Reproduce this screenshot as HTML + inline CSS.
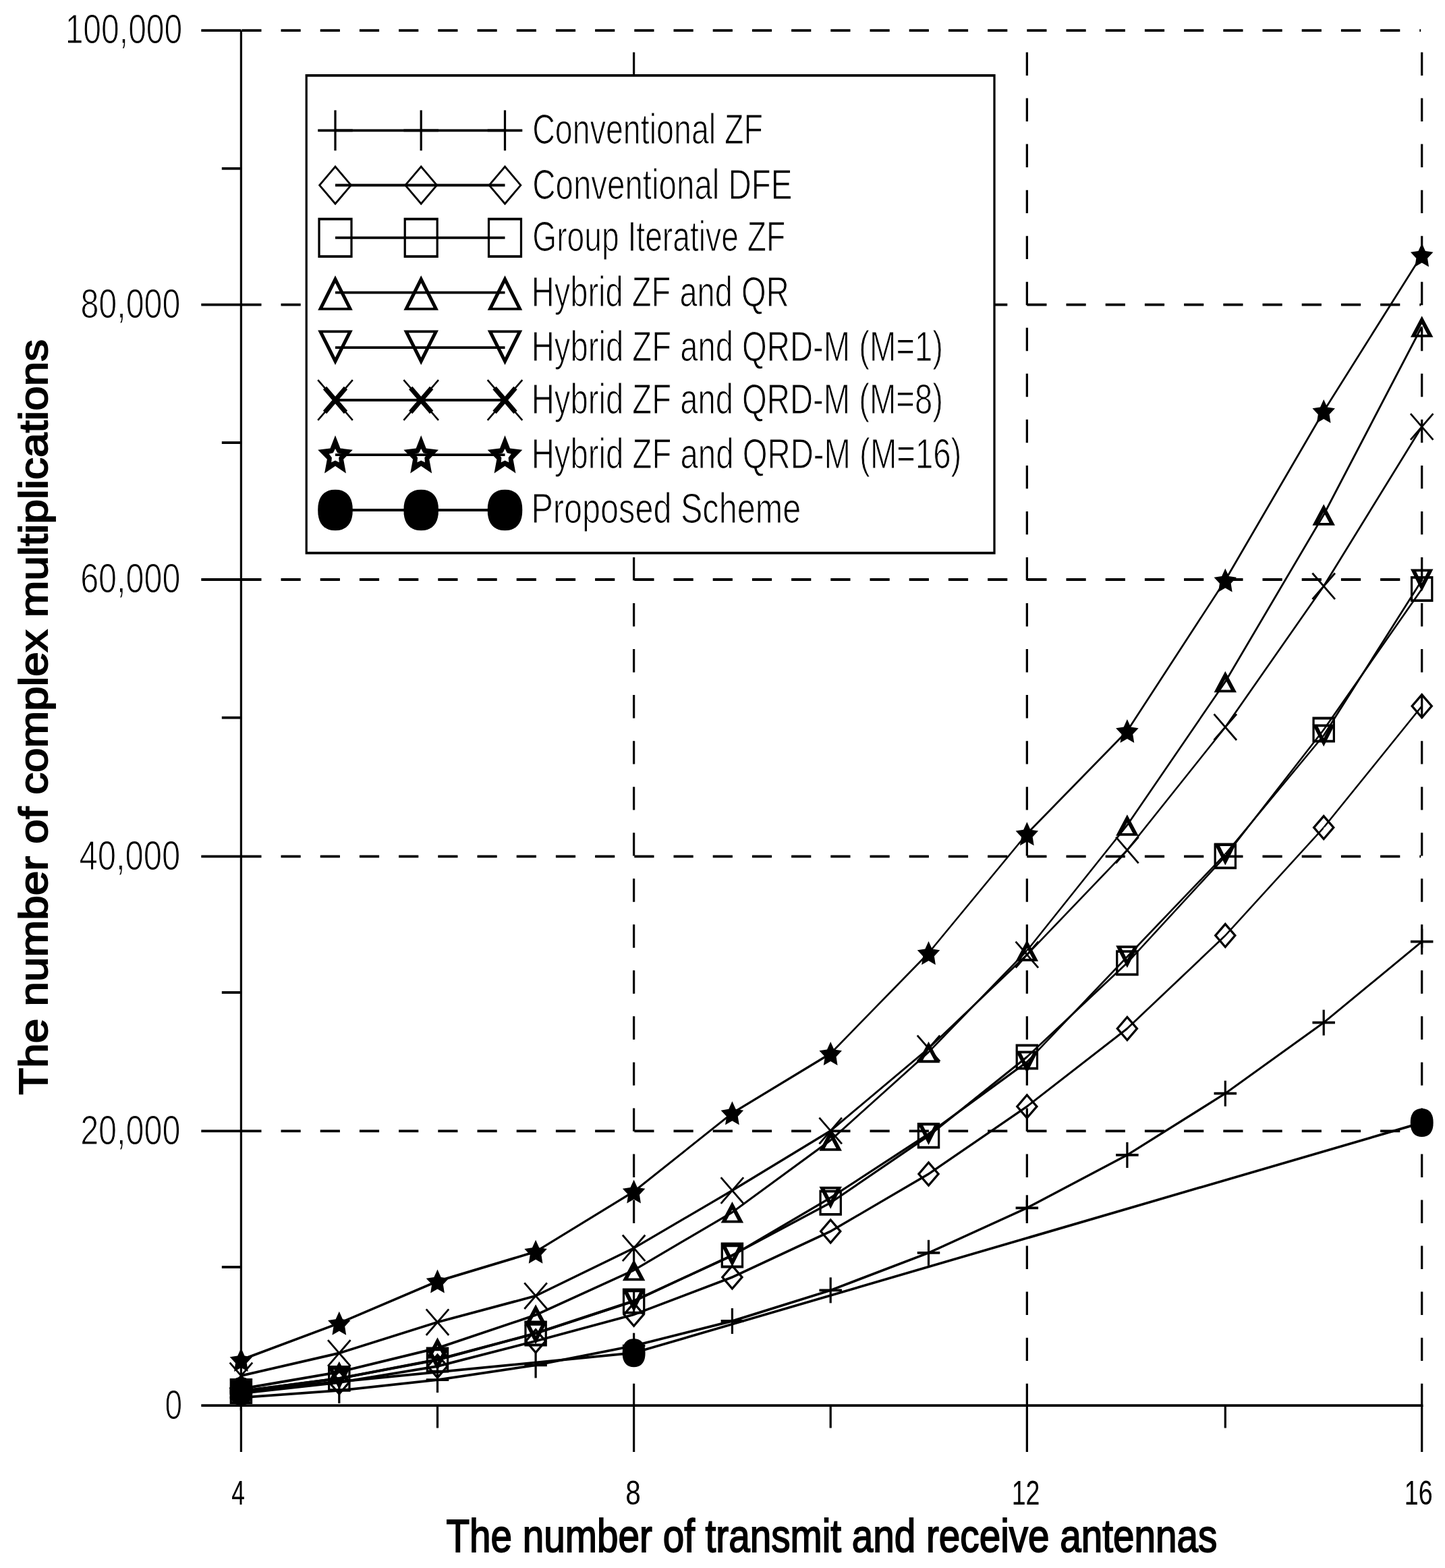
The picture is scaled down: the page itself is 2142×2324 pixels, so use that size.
<!DOCTYPE html>
<html lang="en"><head><meta charset="utf-8"><title>Complexity comparison</title>
<style>
html,body{margin:0;padding:0;background:#fff;overflow:hidden}
svg{display:block}
text{font-family:"Liberation Sans",sans-serif;fill:#000}
.t{stroke:#fff;stroke-width:1.2px;stroke-linejoin:round}
.u{stroke:none}
.b{stroke:#000;stroke-width:1.9px;stroke-linejoin:miter}
.v{stroke:#000;stroke-width:3.23;fill:none}
.h{stroke:#000;stroke-width:3.78;fill:none}
.m{stroke:#000;fill:none;stroke-linejoin:miter}
</style></head><body>
<svg width="2142" height="2324" viewBox="0 0 2142 2324" role="img" aria-label="Complexity comparison chart">
<rect width="2142" height="2324" fill="#fff"/>
<g id="grid">
<line class="h" x1="358.3" y1="1676.4" x2="2106.2" y2="1676.4" stroke-dasharray="29.2 29"/>
<line class="h" x1="358.3" y1="1269.4" x2="2106.2" y2="1269.4" stroke-dasharray="29.2 29"/>
<line class="h" x1="358.3" y1="859" x2="2106.2" y2="859" stroke-dasharray="29.2 29"/>
<line class="h" x1="358.3" y1="451.7" x2="2106.2" y2="451.7" stroke-dasharray="29.2 29"/>
<line class="h" x1="358.3" y1="45.1" x2="2106.2" y2="45.1" stroke-dasharray="29.2 29"/>
<line class="v" x1="939.6" y1="2085.09" x2="939.6" y2="45.1" stroke-dasharray="34.4 33.64"/>
<line class="v" x1="1522.35" y1="2085.09" x2="1522.35" y2="45.1" stroke-dasharray="34.4 33.64"/>
<line class="v" x1="2107.7" y1="2085.09" x2="2107.7" y2="45.1" stroke-dasharray="34.4 33.64"/>
</g>
<g id="axes">
<line class="v" x1="357.4" y1="45.1" x2="357.4" y2="2152"/>
<line class="h" x1="298.3" y1="2083.2" x2="2109.32" y2="2083.2"/>
<line class="h" x1="298.3" y1="1676.4" x2="357.4" y2="1676.4"/>
<line class="h" x1="298.3" y1="1269.4" x2="357.4" y2="1269.4"/>
<line class="h" x1="298.3" y1="859" x2="357.4" y2="859"/>
<line class="h" x1="298.3" y1="451.7" x2="357.4" y2="451.7"/>
<line class="h" x1="298.3" y1="45.1" x2="357.4" y2="45.1"/>
<line class="h" x1="328.8" y1="249.8" x2="357.4" y2="249.8"/>
<line class="h" x1="328.8" y1="656.1" x2="357.4" y2="656.1"/>
<line class="h" x1="328.8" y1="1063.7" x2="357.4" y2="1063.7"/>
<line class="h" x1="328.8" y1="1471" x2="357.4" y2="1471"/>
<line class="h" x1="328.8" y1="1878" x2="357.4" y2="1878"/>
<line class="v" x1="939.6" y1="2083.2" x2="939.6" y2="2152"/>
<line class="v" x1="1522.35" y1="2083.2" x2="1522.35" y2="2152"/>
<line class="v" x1="2107.7" y1="2083.2" x2="2107.7" y2="2152"/>
<line class="v" x1="648.5" y1="2083.2" x2="648.5" y2="2116.5"/>
<line class="v" x1="1231.2" y1="2083.2" x2="1231.2" y2="2116.5"/>
<line class="v" x1="1816.3" y1="2083.2" x2="1816.3" y2="2116.5"/>
</g>
<g id="series" fill="#000" fill-rule="evenodd">
<g id="s-zf">
<path fill-rule="nonzero" d="M357.4 2069.59L502.8 2058.94L502.8 2062.72L357.4 2073.37ZM502.8 2058.94L648.5 2043.23L648.5 2047.01L502.8 2062.72ZM648.5 2043.23L794.1 2021.51L794.1 2025.29L648.5 2047.01ZM794.1 2021.51L939.6 1992.79L939.6 1996.57L794.1 2025.29ZM939.6 1992.79L1085.4 1956.1L1085.4 1959.88L939.6 1996.57ZM1085.4 1956.1L1231.2 1910.45L1231.2 1914.23L1085.4 1959.88ZM1231.2 1910.45L1376.5 1854.89L1376.5 1858.67L1231.2 1914.23ZM1376.5 1854.89L1522.35 1788.41L1522.35 1792.19L1376.5 1858.67ZM1522.35 1788.41L1670.9 1710.06L1670.9 1713.84L1522.35 1792.19ZM1670.9 1710.06L1816.3 1618.83L1816.3 1622.61L1670.9 1713.84ZM1816.3 1618.83L1962.2 1513.75L1962.2 1517.53L1816.3 1622.61ZM1962.2 1513.75L2107.7 1393.84L2107.7 1397.62L1962.2 1517.53Z"/>
<path d="M340.65 2069.59h33.5v3.78h-33.5z"/><path d="M355.78 2052.48h3.23v38h-3.23z"/><path d="M486.05 2058.94h33.5v3.78h-33.5z"/><path d="M501.18 2041.83h3.23v38h-3.23z"/><path d="M631.75 2043.23h33.5v3.78h-33.5z"/><path d="M646.88 2026.12h3.23v38h-3.23z"/><path d="M777.35 2021.51h33.5v3.78h-33.5z"/><path d="M792.48 2004.4h3.23v38h-3.23z"/><path d="M922.85 1992.79h33.5v3.78h-33.5z"/><path d="M937.98 1975.68h3.23v38h-3.23z"/><path d="M1068.65 1956.1h33.5v3.78h-33.5z"/><path d="M1083.78 1938.99h3.23v38h-3.23z"/><path d="M1214.45 1910.45h33.5v3.78h-33.5z"/><path d="M1229.58 1893.34h3.23v38h-3.23z"/><path d="M1359.75 1854.89h33.5v3.78h-33.5z"/><path d="M1374.88 1837.78h3.23v38h-3.23z"/><path d="M1505.6 1788.41h33.5v3.78h-33.5z"/><path d="M1520.73 1771.3h3.23v38h-3.23z"/><path d="M1654.15 1710.06h33.5v3.78h-33.5z"/><path d="M1669.28 1692.95h3.23v38h-3.23z"/><path d="M1799.55 1618.83h33.5v3.78h-33.5z"/><path d="M1814.68 1601.72h3.23v38h-3.23z"/><path d="M1945.45 1513.75h33.5v3.78h-33.5z"/><path d="M1960.58 1496.64h3.23v38h-3.23z"/><path d="M2090.95 1393.84h33.5v3.78h-33.5z"/><path d="M2106.08 1376.73h3.23v38h-3.23z"/>
</g>
<g id="s-dfe">
<path fill-rule="nonzero" d="M357.4 2063.11L502.8 2047.11L502.8 2050.89L357.4 2066.89ZM502.8 2047.11L648.5 2023.11L648.5 2026.89L502.8 2050.89ZM648.5 2023.11L794.1 1985.81L794.1 1989.59L648.5 2026.89ZM794.1 1985.81L939.6 1946.41L939.6 1950.19L794.1 1989.59ZM939.6 1946.41L1085.4 1891.11L1085.4 1894.89L939.6 1950.19ZM1085.4 1891.11L1231.2 1823.11L1231.2 1826.89L1085.4 1894.89ZM1231.2 1823.11L1376.5 1738.11L1376.5 1741.89L1231.2 1826.89ZM1376.5 1738.11L1522.35 1638.11L1522.35 1641.89L1376.5 1741.89ZM1522.35 1638.11L1670.9 1522.61L1670.9 1526.39L1522.35 1641.89ZM1670.9 1522.61L1816.3 1384.71L1816.3 1388.49L1670.9 1526.39ZM1816.3 1384.71L1962.2 1224.71L1962.2 1228.49L1816.3 1388.49ZM1960.58 1226.6L2106.08 1046.6L2109.32 1046.6L1963.82 1226.6Z"/>
<path d="M357.4 2045.5L374.15 2065L357.4 2084.5L340.65 2065ZM357.4 2050.56L345 2065L357.4 2079.44L369.8 2065Z"/><path d="M502.8 2029.5L519.55 2049L502.8 2068.5L486.05 2049ZM502.8 2034.56L490.4 2049L502.8 2063.44L515.2 2049Z"/><path d="M648.5 2005.5L665.25 2025L648.5 2044.5L631.75 2025ZM648.5 2010.56L636.1 2025L648.5 2039.44L660.9 2025Z"/><path d="M794.1 1968.2L810.85 1987.7L794.1 2007.2L777.35 1987.7ZM794.1 1973.26L781.7 1987.7L794.1 2002.14L806.5 1987.7Z"/><path d="M939.6 1928.8L956.35 1948.3L939.6 1967.8L922.85 1948.3ZM939.6 1933.86L927.2 1948.3L939.6 1962.74L952 1948.3Z"/><path d="M1085.4 1873.5L1102.15 1893L1085.4 1912.5L1068.65 1893ZM1085.4 1878.56L1073 1893L1085.4 1907.44L1097.8 1893Z"/><path d="M1231.2 1805.5L1247.95 1825L1231.2 1844.5L1214.45 1825ZM1231.2 1810.56L1218.8 1825L1231.2 1839.44L1243.6 1825Z"/><path d="M1376.5 1720.5L1393.25 1740L1376.5 1759.5L1359.75 1740ZM1376.5 1725.56L1364.1 1740L1376.5 1754.44L1388.9 1740Z"/><path d="M1522.35 1620.5L1539.1 1640L1522.35 1659.5L1505.6 1640ZM1522.35 1625.56L1509.95 1640L1522.35 1654.44L1534.75 1640Z"/><path d="M1670.9 1505L1687.65 1524.5L1670.9 1544L1654.15 1524.5ZM1670.9 1510.06L1658.5 1524.5L1670.9 1538.94L1683.3 1524.5Z"/><path d="M1816.3 1367.1L1833.05 1386.6L1816.3 1406.1L1799.55 1386.6ZM1816.3 1372.16L1803.9 1386.6L1816.3 1401.04L1828.7 1386.6Z"/><path d="M1962.2 1207.1L1978.95 1226.6L1962.2 1246.1L1945.45 1226.6ZM1962.2 1212.16L1949.8 1226.6L1962.2 1241.04L1974.6 1226.6Z"/><path d="M2107.7 1027.1L2124.45 1046.6L2107.7 1066.1L2090.95 1046.6ZM2107.7 1032.16L2095.3 1046.6L2107.7 1061.04L2120.1 1046.6Z"/>
</g>
<g id="s-giz">
<path fill-rule="nonzero" d="M357.4 2060.11L502.8 2041.11L502.8 2044.89L357.4 2063.89ZM502.8 2041.11L648.5 2013.61L648.5 2017.39L502.8 2044.89ZM648.5 2013.61L794.1 1974.51L794.1 1978.29L648.5 2017.39ZM794.1 1974.51L939.6 1926.71L939.6 1930.49L794.1 1978.29ZM939.6 1926.71L1085.4 1858.51L1085.4 1862.29L939.6 1930.49ZM1085.4 1858.51L1231.2 1780.81L1231.2 1784.59L1085.4 1862.29ZM1231.2 1780.81L1376.5 1681.61L1376.5 1685.39L1231.2 1784.59ZM1376.5 1681.61L1522.35 1564.61L1522.35 1568.39L1376.5 1685.39ZM1522.35 1564.61L1670.9 1425.31L1670.9 1429.09L1522.35 1568.39ZM1670.9 1425.31L1816.3 1267.41L1816.3 1271.19L1670.9 1429.09ZM1814.68 1269.3L1960.58 1081.6L1963.82 1081.6L1817.92 1269.3ZM1960.58 1081.6L2106.08 873L2109.32 873L1963.82 1081.6Z"/>
<path d="M340.65 2043L374.15 2043L374.15 2081L340.65 2081ZM343.88 2046.78L343.88 2077.22L370.92 2077.22L370.92 2046.78Z"/><path d="M486.05 2024L519.55 2024L519.55 2062L486.05 2062ZM489.28 2027.78L489.28 2058.22L516.32 2058.22L516.32 2027.78Z"/><path d="M631.75 1996.5L665.25 1996.5L665.25 2034.5L631.75 2034.5ZM634.98 2000.28L634.98 2030.72L662.02 2030.72L662.02 2000.28Z"/><path d="M777.35 1957.4L810.85 1957.4L810.85 1995.4L777.35 1995.4ZM780.58 1961.18L780.58 1991.62L807.62 1991.62L807.62 1961.18Z"/><path d="M922.85 1909.6L956.35 1909.6L956.35 1947.6L922.85 1947.6ZM926.08 1913.38L926.08 1943.82L953.12 1943.82L953.12 1913.38Z"/><path d="M1068.65 1841.4L1102.15 1841.4L1102.15 1879.4L1068.65 1879.4ZM1071.88 1845.18L1071.88 1875.62L1098.92 1875.62L1098.92 1845.18Z"/><path d="M1214.45 1763.7L1247.95 1763.7L1247.95 1801.7L1214.45 1801.7ZM1217.68 1767.48L1217.68 1797.92L1244.72 1797.92L1244.72 1767.48Z"/><path d="M1359.75 1664.5L1393.25 1664.5L1393.25 1702.5L1359.75 1702.5ZM1362.98 1668.28L1362.98 1698.72L1390.02 1698.72L1390.02 1668.28Z"/><path d="M1505.6 1547.5L1539.1 1547.5L1539.1 1585.5L1505.6 1585.5ZM1508.83 1551.28L1508.83 1581.72L1535.87 1581.72L1535.87 1551.28Z"/><path d="M1654.15 1408.2L1687.65 1408.2L1687.65 1446.2L1654.15 1446.2ZM1657.38 1411.98L1657.38 1442.42L1684.42 1442.42L1684.42 1411.98Z"/><path d="M1799.55 1250.3L1833.05 1250.3L1833.05 1288.3L1799.55 1288.3ZM1802.78 1254.08L1802.78 1284.52L1829.82 1284.52L1829.82 1254.08Z"/><path d="M1945.45 1062.6L1978.95 1062.6L1978.95 1100.6L1945.45 1100.6ZM1948.68 1066.38L1948.68 1096.82L1975.72 1096.82L1975.72 1066.38Z"/><path d="M2090.95 854L2124.45 854L2124.45 892L2090.95 892ZM2094.18 857.78L2094.18 888.22L2121.22 888.22L2121.22 857.78Z"/>
</g>
<g id="s-qr">
<path fill-rule="nonzero" d="M357.4 2056.61L502.8 2031.61L502.8 2035.39L357.4 2060.39ZM502.8 2031.61L648.5 1996.11L648.5 1999.89L502.8 2035.39ZM648.5 1996.11L794.1 1947.11L794.1 1950.89L648.5 1999.89ZM794.1 1947.11L939.6 1880.71L939.6 1884.49L794.1 1950.89ZM939.6 1880.71L1085.4 1794.91L1085.4 1798.69L939.6 1884.49ZM1085.4 1794.91L1231.2 1688.11L1231.2 1691.89L1085.4 1798.69ZM1231.2 1688.11L1376.5 1557.51L1376.5 1561.29L1231.2 1691.89ZM1376.5 1557.51L1522.35 1407.11L1522.35 1410.89L1376.5 1561.29ZM1520.73 1409L1669.28 1223L1672.52 1223L1523.97 1409ZM1669.28 1223L1814.68 1010.5L1817.92 1010.5L1672.52 1223ZM1814.68 1010.5L1960.58 763L1963.82 763L1817.92 1010.5ZM1960.58 763L2106.08 484L2109.32 484L1963.82 763Z"/>
<path d="M357.4 2042.75L374.15 2074.25L340.65 2074.25ZM357.4 2054.79L349.06 2070.47L365.74 2070.47Z"/><path d="M502.8 2017.75L519.55 2049.25L486.05 2049.25ZM502.8 2029.79L494.46 2045.47L511.14 2045.47Z"/><path d="M648.5 1982.25L665.25 2013.75L631.75 2013.75ZM648.5 1994.29L640.16 2009.97L656.84 2009.97Z"/><path d="M794.1 1933.25L810.85 1964.75L777.35 1964.75ZM794.1 1945.29L785.76 1960.97L802.44 1960.97Z"/><path d="M939.6 1866.85L956.35 1898.35L922.85 1898.35ZM939.6 1878.89L931.26 1894.57L947.94 1894.57Z"/><path d="M1085.4 1781.05L1102.15 1812.55L1068.65 1812.55ZM1085.4 1793.09L1077.06 1808.77L1093.74 1808.77Z"/><path d="M1231.2 1674.25L1247.95 1705.75L1214.45 1705.75ZM1231.2 1686.29L1222.86 1701.97L1239.54 1701.97Z"/><path d="M1376.5 1543.65L1393.25 1575.15L1359.75 1575.15ZM1376.5 1555.69L1368.16 1571.37L1384.84 1571.37Z"/><path d="M1522.35 1393.25L1539.1 1424.75L1505.6 1424.75ZM1522.35 1405.29L1514.01 1420.97L1530.69 1420.97Z"/><path d="M1670.9 1207.25L1687.65 1238.75L1654.15 1238.75ZM1670.9 1219.29L1662.56 1234.97L1679.24 1234.97Z"/><path d="M1816.3 994.75L1833.05 1026.25L1799.55 1026.25ZM1816.3 1006.79L1807.96 1022.47L1824.64 1022.47Z"/><path d="M1962.2 747.25L1978.95 778.75L1945.45 778.75ZM1962.2 759.29L1953.86 774.97L1970.54 774.97Z"/><path d="M2107.7 468.25L2124.45 499.75L2090.95 499.75ZM2107.7 480.29L2099.36 495.97L2116.04 495.97Z"/>
</g>
<g id="s-m1">
<path fill-rule="nonzero" d="M357.4 2060.11L502.8 2041.11L502.8 2044.89L357.4 2063.89ZM502.8 2041.11L648.5 2013.11L648.5 2016.89L502.8 2044.89ZM648.5 2013.11L794.1 1974.11L794.1 1977.89L648.5 2016.89ZM794.1 1974.11L939.6 1926.11L939.6 1929.89L794.1 1977.89ZM939.6 1926.11L1085.4 1859.11L1085.4 1862.89L939.6 1929.89ZM1085.4 1859.11L1231.2 1773.31L1231.2 1777.09L1085.4 1862.89ZM1231.2 1773.31L1376.5 1678.61L1376.5 1682.39L1231.2 1777.09ZM1376.5 1678.61L1522.35 1572.11L1522.35 1575.89L1376.5 1682.39ZM1522.35 1572.11L1670.9 1416.11L1670.9 1419.89L1522.35 1575.89ZM1670.9 1416.11L1816.3 1264.11L1816.3 1267.89L1670.9 1419.89ZM1814.68 1266L1960.58 1090L1963.82 1090L1817.92 1266ZM1960.58 1090L2106.08 860L2109.32 860L1963.82 1090Z"/>
<path d="M340.65 2045.5L374.15 2045.5L357.4 2078.5ZM365.83 2049.28L348.97 2049.28L357.4 2065.89Z"/><path d="M486.05 2026.5L519.55 2026.5L502.8 2059.5ZM511.23 2030.28L494.37 2030.28L502.8 2046.89Z"/><path d="M631.75 1998.5L665.25 1998.5L648.5 2031.5ZM656.93 2002.28L640.07 2002.28L648.5 2018.89Z"/><path d="M777.35 1959.5L810.85 1959.5L794.1 1992.5ZM802.53 1963.28L785.67 1963.28L794.1 1979.89Z"/><path d="M922.85 1911.5L956.35 1911.5L939.6 1944.5ZM948.03 1915.28L931.17 1915.28L939.6 1931.89Z"/><path d="M1068.65 1844.5L1102.15 1844.5L1085.4 1877.5ZM1093.83 1848.28L1076.97 1848.28L1085.4 1864.89Z"/><path d="M1214.45 1758.7L1247.95 1758.7L1231.2 1791.7ZM1239.63 1762.48L1222.77 1762.48L1231.2 1779.09Z"/><path d="M1359.75 1664L1393.25 1664L1376.5 1697ZM1384.93 1667.78L1368.07 1667.78L1376.5 1684.39Z"/><path d="M1505.6 1557.5L1539.1 1557.5L1522.35 1590.5ZM1530.78 1561.28L1513.92 1561.28L1522.35 1577.89Z"/><path d="M1654.15 1401.5L1687.65 1401.5L1670.9 1434.5ZM1679.33 1405.28L1662.47 1405.28L1670.9 1421.89Z"/><path d="M1799.55 1249.5L1833.05 1249.5L1816.3 1282.5ZM1824.73 1253.28L1807.87 1253.28L1816.3 1269.89Z"/><path d="M1945.45 1073.5L1978.95 1073.5L1962.2 1106.5ZM1970.63 1077.28L1953.77 1077.28L1962.2 1093.89Z"/><path d="M2090.95 843.5L2124.45 843.5L2107.7 876.5ZM2116.13 847.28L2099.27 847.28L2107.7 863.89Z"/>
</g>
<g id="s-m8">
<path fill-rule="nonzero" d="M357.4 2037.11L502.8 2003.61L502.8 2007.39L357.4 2040.89ZM502.8 2003.61L648.5 1957.81L648.5 1961.59L502.8 2007.39ZM648.5 1957.81L794.1 1918.81L794.1 1922.59L648.5 1961.59ZM794.1 1918.81L939.6 1847.91L939.6 1851.69L794.1 1922.59ZM939.6 1847.91L1085.4 1762.61L1085.4 1766.39L939.6 1851.69ZM1085.4 1762.61L1231.2 1674.11L1231.2 1677.89L1085.4 1766.39ZM1231.2 1674.11L1376.5 1552.01L1376.5 1555.79L1231.2 1677.89ZM1376.5 1552.01L1522.35 1413.11L1522.35 1416.89L1376.5 1555.79ZM1522.35 1413.11L1670.9 1258.11L1670.9 1261.89L1522.35 1416.89ZM1669.28 1260L1814.68 1077.7L1817.92 1077.7L1672.52 1260ZM1814.68 1077.7L1960.58 868.8L1963.82 868.8L1817.92 1077.7ZM1960.58 868.8L2106.08 632.5L2109.32 632.5L1963.82 868.8Z"/>
<path fill-rule="nonzero" d="M339.59 2020.62L373.09 2059.22L375.21 2057.38L341.71 2018.78ZM341.71 2059.22L375.21 2020.62L373.09 2018.78L339.59 2057.38Z"/><path fill-rule="nonzero" d="M484.99 1987.12L518.49 2025.72L520.61 2023.88L487.11 1985.28ZM487.11 2025.72L520.61 1987.12L518.49 1985.28L484.99 2023.88Z"/><path fill-rule="nonzero" d="M630.69 1941.32L664.19 1979.92L666.31 1978.08L632.81 1939.48ZM632.81 1979.92L666.31 1941.32L664.19 1939.48L630.69 1978.08Z"/><path fill-rule="nonzero" d="M776.29 1902.32L809.79 1940.92L811.91 1939.08L778.41 1900.48ZM778.41 1940.92L811.91 1902.32L809.79 1900.48L776.29 1939.08Z"/><path fill-rule="nonzero" d="M921.79 1831.42L955.29 1870.02L957.41 1868.18L923.91 1829.58ZM923.91 1870.02L957.41 1831.42L955.29 1829.58L921.79 1868.18Z"/><path fill-rule="nonzero" d="M1067.59 1746.12L1101.09 1784.72L1103.21 1782.88L1069.71 1744.28ZM1069.71 1784.72L1103.21 1746.12L1101.09 1744.28L1067.59 1782.88Z"/><path fill-rule="nonzero" d="M1213.39 1657.62L1246.89 1696.22L1249.01 1694.38L1215.51 1655.78ZM1215.51 1696.22L1249.01 1657.62L1246.89 1655.78L1213.39 1694.38Z"/><path fill-rule="nonzero" d="M1358.69 1535.52L1392.19 1574.12L1394.31 1572.28L1360.81 1533.68ZM1360.81 1574.12L1394.31 1535.52L1392.19 1533.68L1358.69 1572.28Z"/><path fill-rule="nonzero" d="M1504.54 1396.62L1538.04 1435.22L1540.16 1433.38L1506.66 1394.78ZM1506.66 1435.22L1540.16 1396.62L1538.04 1394.78L1504.54 1433.38Z"/><path fill-rule="nonzero" d="M1653.09 1241.62L1686.59 1280.22L1688.71 1278.38L1655.21 1239.78ZM1655.21 1280.22L1688.71 1241.62L1686.59 1239.78L1653.09 1278.38Z"/><path fill-rule="nonzero" d="M1798.49 1059.32L1831.99 1097.92L1834.11 1096.08L1800.61 1057.48ZM1800.61 1097.92L1834.11 1059.32L1831.99 1057.48L1798.49 1096.08Z"/><path fill-rule="nonzero" d="M1944.39 850.42L1977.89 889.02L1980.01 887.18L1946.51 848.58ZM1946.51 889.02L1980.01 850.42L1977.89 848.58L1944.39 887.18Z"/><path fill-rule="nonzero" d="M2089.89 614.12L2123.39 652.72L2125.51 650.88L2092.01 612.28ZM2092.01 652.72L2125.51 614.12L2123.39 612.28L2089.89 650.88Z"/>
</g>
<g id="s-m16">
<path fill-rule="nonzero" d="M357.4 2013.61L502.8 1959.31L502.8 1963.09L357.4 2017.39ZM502.8 1959.31L648.5 1897.11L648.5 1900.89L502.8 1963.09ZM648.5 1897.11L794.1 1853.31L794.1 1857.09L648.5 1900.89ZM794.1 1853.31L939.6 1764.11L939.6 1767.89L794.1 1857.09ZM939.6 1764.11L1085.4 1647.91L1085.4 1651.69L939.6 1767.89ZM1085.4 1647.91L1231.2 1559.61L1231.2 1563.39L1085.4 1651.69ZM1231.2 1559.61L1376.5 1410.61L1376.5 1414.39L1231.2 1563.39ZM1374.88 1412.5L1520.73 1235.7L1523.97 1235.7L1378.12 1412.5ZM1522.35 1233.81L1670.9 1081.61L1670.9 1085.39L1522.35 1237.59ZM1669.28 1083.5L1814.68 860L1817.92 860L1672.52 1083.5ZM1814.68 860L1960.58 609.5L1963.82 609.5L1817.92 860ZM1960.58 609.5L2106.08 378L2109.32 378L1963.82 609.5Z"/>
<path d="M357.4 1998L362.58 2009.52L374.15 2011.37L365.77 2020.34L367.75 2033L357.4 2027.02L347.05 2033L349.02 2020.34L340.65 2011.37L352.22 2009.52Z"/><path d="M502.8 1943.7L507.98 1955.22L519.55 1957.07L511.18 1966.04L513.15 1978.7L502.8 1972.72L492.45 1978.7L494.43 1966.04L486.05 1957.07L497.62 1955.22Z"/><path d="M648.5 1881.5L653.68 1893.02L665.25 1894.87L656.88 1903.84L658.85 1916.5L648.5 1910.52L638.15 1916.5L640.12 1903.84L631.75 1894.87L643.32 1893.02Z"/><path d="M794.1 1837.7L799.28 1849.22L810.85 1851.07L802.48 1860.04L804.45 1872.7L794.1 1866.72L783.75 1872.7L785.73 1860.04L777.35 1851.07L788.92 1849.22Z"/><path d="M939.6 1748.5L944.78 1760.02L956.35 1761.87L947.98 1770.84L949.95 1783.5L939.6 1777.52L929.25 1783.5L931.23 1770.84L922.85 1761.87L934.42 1760.02Z"/><path d="M1085.4 1632.3L1090.58 1643.82L1102.15 1645.67L1093.78 1654.64L1095.75 1667.3L1085.4 1661.32L1075.05 1667.3L1077.03 1654.64L1068.65 1645.67L1080.22 1643.82Z"/><path d="M1231.2 1544L1236.38 1555.52L1247.95 1557.37L1239.58 1566.34L1241.55 1579L1231.2 1573.02L1220.85 1579L1222.83 1566.34L1214.45 1557.37L1226.02 1555.52Z"/><path d="M1376.5 1395L1381.68 1406.52L1393.25 1408.37L1384.88 1417.34L1386.85 1430L1376.5 1424.02L1366.15 1430L1368.12 1417.34L1359.75 1408.37L1371.32 1406.52Z"/><path d="M1522.35 1218.2L1527.53 1229.72L1539.1 1231.57L1530.72 1240.54L1532.7 1253.2L1522.35 1247.22L1512 1253.2L1513.97 1240.54L1505.6 1231.57L1517.17 1229.72Z"/><path d="M1670.9 1066L1676.08 1077.52L1687.65 1079.37L1679.28 1088.34L1681.25 1101L1670.9 1095.02L1660.55 1101L1662.53 1088.34L1654.15 1079.37L1665.72 1077.52Z"/><path d="M1816.3 842.5L1821.48 854.02L1833.05 855.87L1824.67 864.84L1826.65 877.5L1816.3 871.52L1805.95 877.5L1807.92 864.84L1799.55 855.87L1811.12 854.02Z"/><path d="M1962.2 592L1967.38 603.52L1978.95 605.37L1970.58 614.34L1972.55 627L1962.2 621.02L1951.85 627L1953.83 614.34L1945.45 605.37L1957.02 603.52Z"/><path d="M2107.7 360.5L2112.88 372.02L2124.45 373.87L2116.07 382.84L2118.05 395.5L2107.7 389.52L2097.35 395.5L2099.32 382.84L2090.95 373.87L2102.52 372.02Z"/>
</g>
<g id="s-prop">
<path fill-rule="nonzero" d="M357.4 2060.11L939.6 2003.31L939.6 2007.09L357.4 2063.89ZM939.6 2003.31L2107.7 1662.11L2107.7 1665.89L939.6 2007.09Z"/>
<path d="M374.35 2062L374.17 2066.33L373.64 2069.73L372.76 2072.72L371.55 2075.36L370.02 2077.64L368.18 2079.53L366.06 2081.04L363.64 2082.12L360.9 2082.78L357.4 2083L353.9 2082.78L351.16 2082.12L348.74 2081.04L346.62 2079.53L344.78 2077.64L343.25 2075.36L342.04 2072.72L341.16 2069.73L340.63 2066.33L340.45 2062L340.63 2057.67L341.16 2054.27L342.04 2051.28L343.25 2048.64L344.78 2046.36L346.62 2044.47L348.74 2042.96L351.16 2041.88L353.9 2041.22L357.4 2041L360.9 2041.22L363.64 2041.88L366.06 2042.96L368.18 2044.47L370.02 2046.36L371.55 2048.64L372.76 2051.28L373.64 2054.27L374.17 2057.67Z"/><path d="M956.55 2005.2L956.37 2009.53L955.84 2012.93L954.96 2015.92L953.75 2018.56L952.22 2020.84L950.38 2022.73L948.26 2024.24L945.84 2025.32L943.1 2025.98L939.6 2026.2L936.1 2025.98L933.36 2025.32L930.94 2024.24L928.82 2022.73L926.98 2020.84L925.45 2018.56L924.24 2015.92L923.36 2012.93L922.83 2009.53L922.65 2005.2L922.83 2000.87L923.36 1997.47L924.24 1994.48L925.45 1991.84L926.98 1989.56L928.82 1987.67L930.94 1986.16L933.36 1985.08L936.1 1984.42L939.6 1984.2L943.1 1984.42L945.84 1985.08L948.26 1986.16L950.38 1987.67L952.22 1989.56L953.75 1991.84L954.96 1994.48L955.84 1997.47L956.37 2000.87Z"/><path d="M2124.65 1664L2124.47 1668.33L2123.94 1671.73L2123.06 1674.72L2121.85 1677.36L2120.32 1679.64L2118.48 1681.53L2116.36 1683.04L2113.94 1684.12L2111.2 1684.78L2107.7 1685L2104.2 1684.78L2101.46 1684.12L2099.04 1683.04L2096.92 1681.53L2095.08 1679.64L2093.55 1677.36L2092.34 1674.72L2091.46 1671.73L2090.93 1668.33L2090.75 1664L2090.93 1659.67L2091.46 1656.27L2092.34 1653.28L2093.55 1650.64L2095.08 1648.36L2096.92 1646.47L2099.04 1644.96L2101.46 1643.88L2104.2 1643.22L2107.7 1643L2111.2 1643.22L2113.94 1643.88L2116.36 1644.96L2118.48 1646.47L2120.32 1648.36L2121.85 1650.64L2123.06 1653.28L2123.94 1656.27L2124.47 1659.67Z"/>
</g>
</g>
<g id="legend">
<path fill="#fff" d="M454.2 111.8H1474V819.7H454.2Z"/>
<path fill="#000" fill-rule="evenodd" d="M452.58 109.91H1475.62V821.59H452.58ZM455.82 113.69H1472.38V817.81H455.82Z"/>
<g fill="#000" fill-rule="evenodd">
<path d="M497 191.41H748.5V195.19H497Z"/>
<path d="M471.2 191.41h51.6v3.78h-51.6z"/><path d="M495.38 163.4h3.23v59.8h-3.23z"/><path d="M598.4 191.41h51.6v3.78h-51.6z"/><path d="M622.58 163.4h3.23v59.8h-3.23z"/><path d="M722.7 191.41h51.6v3.78h-51.6z"/><path d="M746.88 163.4h3.23v59.8h-3.23z"/>
<path d="M497 272.61H748.5V276.39H497Z"/>
<path d="M497 244.8L522.2 274.5L497 304.2L471.8 274.5ZM497 249.13L475.47 274.5L497 299.87L518.53 274.5Z"/><path d="M624.2 244.8L649.4 274.5L624.2 304.2L599 274.5ZM624.2 249.13L602.67 274.5L624.2 299.87L645.73 274.5Z"/><path d="M748.5 244.8L773.7 274.5L748.5 304.2L723.3 274.5ZM748.5 249.13L726.97 274.5L748.5 299.87L770.03 274.5Z"/>
<path d="M497 350.51H748.5V354.29H497Z"/>
<path d="M471.4 322.8L522.6 322.8L522.6 382L471.4 382ZM474.63 326.58L474.63 378.22L519.37 378.22L519.37 326.58Z"/><path d="M598.6 322.8L649.8 322.8L649.8 382L598.6 382ZM601.83 326.58L601.83 378.22L646.57 378.22L646.57 326.58Z"/><path d="M722.9 322.8L774.1 322.8L774.1 382L722.9 382ZM726.13 326.58L726.13 378.22L770.87 378.22L770.87 326.58Z"/>
<path d="M497 431.71H748.5V435.49H497Z"/>
<path d="M497 408.2L522.8 459.7L471.2 459.7ZM497 419.38L478.69 455.92L515.31 455.92Z"/><path d="M624.2 408.2L650 459.7L598.4 459.7ZM624.2 419.38L605.89 455.92L642.51 455.92Z"/><path d="M748.5 408.2L774.3 459.7L722.7 459.7ZM748.5 419.38L730.19 455.92L766.81 455.92Z"/>
<path d="M497 513.31H748.5V517.09H497Z"/>
<path d="M471.2 489.4L522.8 489.4L497 540.9ZM515.31 493.18L478.69 493.18L497 529.72Z"/><path d="M598.4 489.4L650 489.4L624.2 540.9ZM642.51 493.18L605.89 493.18L624.2 529.72Z"/><path d="M722.7 489.4L774.3 489.4L748.5 540.9ZM766.81 493.18L730.19 493.18L748.5 529.72Z"/>
<path d="M497 591.11H748.5V594.89H497Z"/>
<path fill-rule="nonzero" d="M470.22 563.95L521.82 623.75L523.78 622.05L472.18 562.25ZM472.18 623.75L523.78 563.95L521.82 562.25L470.22 622.05Z"/><path fill-rule="nonzero" d="M478.87 577.35L509.83 613.23L515.13 608.65L484.17 572.77ZM484.17 613.23L515.13 577.35L509.83 572.77L478.87 608.65Z"/><path fill-rule="nonzero" d="M597.42 563.95L649.02 623.75L650.98 622.05L599.38 562.25ZM599.38 623.75L650.98 563.95L649.02 562.25L597.42 622.05Z"/><path fill-rule="nonzero" d="M606.07 577.35L637.03 613.23L642.33 608.65L611.37 572.77ZM611.37 613.23L642.33 577.35L637.03 572.77L606.07 608.65Z"/><path fill-rule="nonzero" d="M721.72 563.95L773.32 623.75L775.28 622.05L723.68 562.25ZM723.68 623.75L775.28 563.95L773.32 562.25L721.72 622.05Z"/><path fill-rule="nonzero" d="M730.37 577.35L761.33 613.23L766.63 608.65L735.67 572.77ZM735.67 613.23L766.63 577.35L761.33 572.77L730.37 608.65Z"/>
<path d="M497 672.31H748.5V676.09H497Z"/>
<path d="M497 645.2L504.49 664.45L522.8 666.67L509.13 680.78L512.95 701.4L497 690.87L481.05 701.4L484.87 680.78L471.2 666.67L489.51 664.45ZM493.84 671.29L487.71 672.81L491.89 678.17L491.26 685.31L497 682.42L502.74 685.31L502.11 678.17L506.29 672.81L500.16 671.29L497 665.08Z"/><path d="M624.2 645.2L631.69 664.45L650 666.67L636.33 680.78L640.15 701.4L624.2 690.87L608.25 701.4L612.07 680.78L598.4 666.67L616.71 664.45ZM621.04 671.29L614.91 672.81L619.09 678.17L618.46 685.31L624.2 682.42L629.94 685.31L629.31 678.17L633.49 672.81L627.36 671.29L624.2 665.08Z"/><path d="M748.5 645.2L755.99 664.45L774.3 666.67L760.63 680.78L764.45 701.4L748.5 690.87L732.55 701.4L736.37 680.78L722.7 666.67L741.01 664.45ZM745.34 671.29L739.21 672.81L743.39 678.17L742.76 685.31L748.5 682.42L754.24 685.31L753.61 678.17L757.79 672.81L751.66 671.29L748.5 665.08Z"/>
<path d="M497 754.11H748.5V757.89H497Z"/>
<path d="M522.8 756L522.53 762.23L521.72 767.12L520.39 771.42L518.54 775.21L516.21 778.49L513.41 781.22L510.17 783.37L506.5 784.94L502.32 785.88L497 786.2L491.68 785.88L487.5 784.94L483.83 783.37L480.59 781.22L477.79 778.49L475.46 775.21L473.61 771.42L472.28 767.12L471.47 762.23L471.2 756L471.47 749.77L472.28 744.88L473.61 740.58L475.46 736.79L477.79 733.51L480.59 730.78L483.83 728.63L487.5 727.06L491.68 726.12L497 725.8L502.32 726.12L506.5 727.06L510.17 728.63L513.41 730.78L516.21 733.51L518.54 736.79L520.39 740.58L521.72 744.88L522.53 749.77Z"/><path d="M650 756L649.73 762.23L648.92 767.12L647.59 771.42L645.74 775.21L643.41 778.49L640.61 781.22L637.37 783.37L633.7 784.94L629.52 785.88L624.2 786.2L618.88 785.88L614.7 784.94L611.03 783.37L607.79 781.22L604.99 778.49L602.66 775.21L600.81 771.42L599.48 767.12L598.67 762.23L598.4 756L598.67 749.77L599.48 744.88L600.81 740.58L602.66 736.79L604.99 733.51L607.79 730.78L611.03 728.63L614.7 727.06L618.88 726.12L624.2 725.8L629.52 726.12L633.7 727.06L637.37 728.63L640.61 730.78L643.41 733.51L645.74 736.79L647.59 740.58L648.92 744.88L649.73 749.77Z"/><path d="M774.3 756L774.03 762.23L773.22 767.12L771.89 771.42L770.04 775.21L767.71 778.49L764.91 781.22L761.67 783.37L758 784.94L753.82 785.88L748.5 786.2L743.18 785.88L739 784.94L735.33 783.37L732.09 781.22L729.29 778.49L726.96 775.21L725.11 771.42L723.78 767.12L722.97 762.23L722.7 756L722.97 749.77L723.78 744.88L725.11 740.58L726.96 736.79L729.29 733.51L732.09 730.78L735.33 728.63L739 727.06L743.18 726.12L748.5 725.8L753.82 726.12L758 727.06L761.67 728.63L764.91 730.78L767.71 733.51L770.04 736.79L771.89 740.58L773.22 744.88L774.03 749.77Z"/>
</g>
<text class="t" transform="translate(789.21 213.05) scale(0.7485 1)" font-size="62.24">Conventional ZF</text>
<text class="t" transform="translate(789.21 294.95) scale(0.7611 1)" font-size="62.39">Conventional DFE</text>
<text class="t" transform="translate(789.21 371.95) scale(0.7409 1)" font-size="62.39">Group Iterative ZF</text>
<text class="t" transform="translate(787.66 454.35) scale(0.7548 1)" font-size="62.39">Hybrid ZF and QR</text>
<text class="t" transform="translate(787.69 535.35) scale(0.7574 1)" font-size="62.39">Hybrid ZF and QRD-M (M=1)</text>
<text class="t" transform="translate(787.69 613.45) scale(0.7556 1)" font-size="62.54">Hybrid ZF and QRD-M (M=8)</text>
<text class="t" transform="translate(787.70 693.95) scale(0.7587 1)" font-size="62.39">Hybrid ZF and QRD-M (M=16)</text>
<text class="t" transform="translate(787.42 775.15) scale(0.7809 1)" font-size="62.24">Proposed Scheme</text>
</g>
<g id="ticklabels">
<text class="t" transform="translate(96.65 64.30) scale(0.7847 1)" font-size="61.23">100,000</text>
<text class="t" transform="translate(119.41 471.20) scale(0.7864 1)" font-size="61.52">80,000</text>
<text class="t" transform="translate(119.15 878.20) scale(0.7915 1)" font-size="61.23">60,000</text>
<text class="t" transform="translate(117.46 1288.60) scale(0.7930 1)" font-size="61.80">40,000</text>
<text class="t" transform="translate(119.15 1695.60) scale(0.7842 1)" font-size="61.80">20,000</text>
<text class="t" transform="translate(244.50 2102.60) scale(0.7542 1)" font-size="61.09">0</text>
<text class="u" transform="translate(343.17 2229.50) scale(0.7172 1)" font-size="49.33">4</text>
<text class="u" transform="translate(927.14 2229.50) scale(0.8175 1)" font-size="49.47">8</text>
<text class="u" transform="translate(1499.68 2229.50) scale(0.7595 1)" font-size="49.47">12</text>
<text class="u" transform="translate(2081.78 2229.50) scale(0.7613 1)" font-size="49.47">16</text>
</g>
<g id="titles">
<text class="b" transform="translate(661.50 2299.90) scale(0.8185 1)" font-size="69.21">The number of transmit and receive antennas</text>
<text class="b" transform="translate(70.30 1622.80) rotate(-90) scale(1.1011 1)" font-size="59.61">The number of complex multiplications</text>
</g>
</svg></body></html>
